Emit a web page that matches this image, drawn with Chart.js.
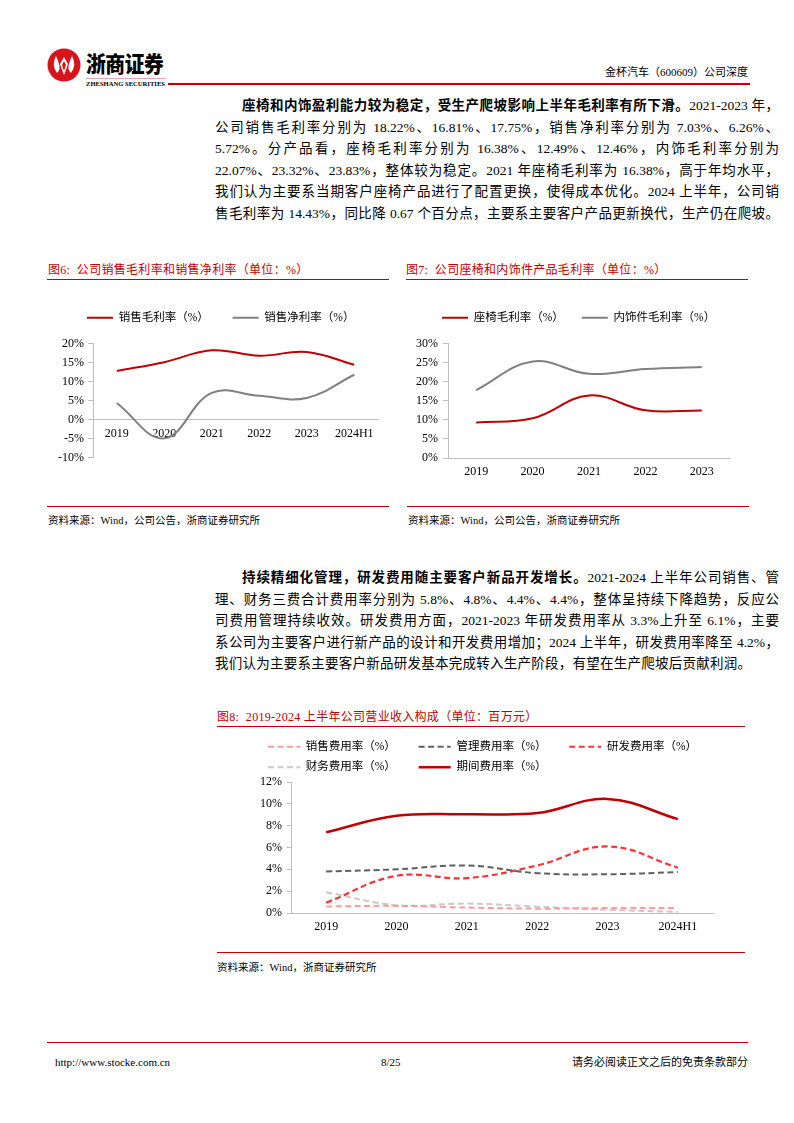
<!DOCTYPE html>
<html lang="zh-CN">
<head>
<meta charset="utf-8">
<title>金杯汽车（600609）公司深度</title>
<script src="https://cdn.jsdelivr.net/npm/chart.js@4.4.1/dist/chart.umd.min.js"></script>
<style>
  html, body { margin: 0; padding: 0; background: #fff; }
  #page { position: relative; width: 794px; height: 1123px; overflow: hidden;
          font-family: "Liberation Serif", "Noto Sans CJK SC", serif; color: #000; }
  .abs { position: absolute; white-space: nowrap; }
  .rule { position: absolute; height: 0; border-top: 1.5px solid #C00000; }
  .para { position: absolute; left: 215px; width: 564px; font-size: 13.5px; line-height: 21.6px; }
  .para .ln { text-align: justify; text-align-last: justify; }
  .para .end { text-align: left; text-align-last: left; letter-spacing: 0.25px; }
  .para b { font-family: "Noto Sans CJK SC", sans-serif; font-weight: 700; }
  .figtitle { position: absolute; font-size: 12px; letter-spacing: 0.3px; color: #C00000; white-space: nowrap; }
  .source { position: absolute; font-size: 10.5px; white-space: nowrap; }
  canvas { position: absolute; }
</style>
</head>
<body>
<div id="page">

  <!-- ============= cabeçalho ============= -->
  <svg class="abs" style="left:47px;top:48px" width="34" height="34" viewBox="0 0 34 34">
    <circle cx="17" cy="17" r="16.5" fill="#D7141A"/>
    <path d="M9 8 Q4 17 10 25 Q14 21 12 16 Q11 12 9 8 Z" fill="#fff"/>
    <path d="M25 8 Q30 17 24 25 Q20 21 22 16 Q23 12 25 8 Z" fill="#fff"/>
    <path d="M17 9 L21 16 L17 27 L13 16 Z" fill="#fff"/>
    <path d="M17 13 L19 17 L17 23 L15 17 Z" fill="#D7141A"/>
  </svg>
  <div class="abs" style="left:86px;top:48px;font-family:'Noto Sans CJK SC';font-weight:900;font-size:22px;line-height:28px;transform:scaleX(0.9);transform-origin:left top;letter-spacing:-0.5px">浙商证券</div>
  <div class="abs" style="left:86px;top:78px;width:80px;border-top:1px solid #E9A3AC"></div>
  <div class="abs" style="left:86px;top:80px;font-size:6.6px;font-weight:700;line-height:8px">ZHESHANG SECURITIES</div>
  <div class="abs" style="right:46px;top:65px;font-size:11px;line-height:14px">金杯汽车（600609）公司深度</div>
  <div class="rule" style="left:168px;top:83px;width:582px;border-top-width:2px"></div>

  <!-- ============= texto 1 ============= -->
  <div class="para" style="top:94px">
    <div class="ln" style="text-indent:2em"><b>座椅和内饰盈利能力较为稳定，受生产爬坡影响上半年毛利率有所下滑。</b>2021-2023 年，</div>
    <div class="ln">公司销售毛利率分别为 18.22%、16.81%、17.75%，销售净利率分别为 7.03%、6.26%、</div>
    <div class="ln">5.72%。分产品看，座椅毛利率分别为 16.38%、12.49%、12.46%，内饰毛利率分别为</div>
    <div class="ln">22.07%、23.32%、23.83%，整体较为稳定。2021 年座椅毛利率为 16.38%，高于年均水平，</div>
    <div class="ln">我们认为主要系当期客户座椅产品进行了配置更换，使得成本优化。2024 上半年，公司销</div>
    <div class="ln">售毛利率为 14.43%，同比降 0.67 个百分点，主要系主要客户产品更新换代，生产仍在爬坡。</div>
  </div>

  <!-- ============= figuras 6 e 7 ============= -->
  <div class="figtitle" style="left:48px;top:260px">图6:&nbsp;&nbsp;公司销售毛利率和销售净利率（单位：%）</div>
  <div class="rule" style="left:47px;top:279px;width:342px"></div>
  <canvas id="marginChart" width="355" height="175" style="left:40px;top:294px"></canvas>
  <div class="rule" style="left:47px;top:506px;width:342px"></div>
  <div class="source" style="left:48px;top:512px">资料来源：Wind，公司公告，浙商证券研究所</div>

  <div class="figtitle" style="left:406px;top:260px">图7:&nbsp;&nbsp;公司座椅和内饰件产品毛利率（单位：%）</div>
  <div class="rule" style="left:406px;top:279px;width:342px"></div>
  <canvas id="productChart" width="355" height="189" style="left:400px;top:294px"></canvas>
  <div class="rule" style="left:407px;top:506px;width:342px"></div>
  <div class="source" style="left:408px;top:512px">资料来源：Wind，公司公告，浙商证券研究所</div>

  <!-- ============= texto 2 ============= -->
  <div class="para" style="top:566px">
    <div class="ln" style="text-indent:2em"><b>持续精细化管理，研发费用随主要客户新品开发增长。</b>2021-2024 上半年公司销售、管</div>
    <div class="ln">理、财务三费合计费用率分别为 5.8%、4.8%、4.4%、4.4%，整体呈持续下降趋势，反应公</div>
    <div class="ln">司费用管理持续收效。研发费用方面，2021-2023 年研发费用率从 3.3%上升至 6.1%，主要</div>
    <div class="ln">系公司为主要客户进行新产品的设计和开发费用增加；2024 上半年，研发费用率降至 4.2%，</div>
    <div class="ln end">我们认为主要系主要客户新品研发基本完成转入生产阶段，有望在生产爬坡后贡献利润。</div>
  </div>

  <!-- ============= figura 8 ============= -->
  <div class="figtitle" style="left:217px;top:707px">图8:&nbsp;&nbsp;2019-2024 上半年公司营业收入构成（单位：百万元）</div>
  <div class="rule" style="left:217px;top:726px;width:528px"></div>
  <canvas id="expenseChart" width="530" height="208" style="left:215px;top:730px"></canvas>
  <div class="rule" style="left:217px;top:952px;width:528px"></div>
  <div class="source" style="left:217px;top:959px">资料来源：Wind，浙商证券研究所</div>

  <!-- ============= rodapé ============= -->
  <div class="rule" style="left:47px;top:1042px;width:701px"></div>
  <div class="abs" style="left:55px;top:1055px;font-size:11px;line-height:14px">http://www.stocke.com.cn</div>
  <div class="abs" style="left:381px;top:1055px;font-size:11px;line-height:14px">8/25</div>
  <div class="abs" style="right:46px;top:1055px;font-size:11px;line-height:14px">请务必阅读正文之后的免责条款部分</div>
</div>

<script>
// ============= Dados =============
const marginYears = ["2019", "2020", "2021", "2022", "2023", "2024H1"];
const grossMargin = [12.8, 15.1, 18.22, 16.81, 17.75, 14.43];
const netMargin = [4.4, -4.9, 7.03, 6.26, 5.72, 11.8];

const productYears = ["2019", "2020", "2021", "2022", "2023"];
const seatMargin = [9.3, 10.4, 16.38, 12.49, 12.46];
const trimMargin = [17.8, 25.3, 22.07, 23.32, 23.83];

const expenseYears = ["2019", "2020", "2021", "2022", "2023", "2024H1"];
const salesRate = [0.6, 0.65, 0.5, 0.4, 0.45, 0.45];
const adminRate = [3.8, 4.0, 4.35, 3.65, 3.55, 3.75];
const rdRate = [0.95, 3.4, 3.2, 4.35, 6.1, 4.15];
const financeRate = [1.9, 0.72, 0.86, 0.58, 0.3, 0.1];
const periodRate = [7.4, 8.9, 9.05, 9.15, 10.45, 8.6];

// ============= Config comum =============
Chart.defaults.font.family = "'Liberation Serif', 'Noto Sans CJK SC', serif";
Chart.defaults.font.size = 12;
Chart.defaults.color = "#000";

const axisGrey = "#BFBFBF";
const pct = v => v + "%";

// legenda empurrada/alargada para ficar como no relatório
const legendBox = {
  id: "legendBox",
  beforeInit(chart, args, opts) {
    const legend = chart.legend;
    const fit = legend.fit;
    legend.fit = function () {
      this.maxWidth += opts.dw || 0;
      fit.call(this);
      this.height += opts.dy || 0;
    };
  },
  afterLayout(chart, args, opts) {
    chart.legend.left += opts.dx || 0;
    chart.legend.right += (opts.dx || 0) + (opts.dw || 0);
  }
};

function lineLegend(spacer) {
  return chart => chart.data.datasets.map((ds, i) => ({
    text: ds.label + spacer,
    strokeStyle: ds.borderColor,
    fillStyle: ds.borderColor,
    lineWidth: ds.borderWidth,
    lineDash: ds.borderDash || [],
    pointStyle: "line",
    fontColor: "#000",
    hidden: false,
    datasetIndex: i
  }));
}

function line(label, data, color, width, dash) {
  return { label, data, borderColor: color, backgroundColor: color, borderWidth: width,
           borderDash: dash || [], pointRadius: 0, tension: 0.4, fill: false };
}

// ============= Gráfico 1: margens =============
new Chart(document.getElementById("marginChart"), {
  type: "line",
  data: {
    labels: marginYears,
    datasets: [
      line("销售毛利率（%）", grossMargin, "#C00000", 2),
      line("销售净利率（%）", netMargin, "#808080", 2)
    ]
  },
  options: {
    responsive: false, animation: false, events: [],
    layout: { padding: { top: 0, left: 11, right: 17, bottom: 10 } },
    plugins: {
      legend: { align: "start", labels: { usePointStyle: true, pointStyleWidth: 26, padding: 18,
                font: { size: 11.5 }, generateLabels: lineLegend("\u2002") } },
      legendBox: { dx: 18, dy: 10, dw: 40 },
      tooltip: { enabled: false }
    },
    scales: {
      x: { position: { y: 0 }, offset: true,
           grid: { display: false, drawTicks: false }, border: { color: axisGrey },
           ticks: { padding: 7, maxRotation: 0, autoSkip: false } },
      y: { min: -10, max: 20,
           ticks: { stepSize: 5, padding: 4, callback: pct },
           grid: { drawOnChartArea: false, tickLength: 5, color: axisGrey },
           border: { color: axisGrey },
           afterFit: s => { s.width = 42; } }
    }
  },
  plugins: [legendBox]
});

// ============= Gráfico 2: produtos =============
new Chart(document.getElementById("productChart"), {
  type: "line",
  data: {
    labels: productYears,
    datasets: [
      line("座椅毛利率（%）", seatMargin, "#C00000", 2),
      line("内饰件毛利率（%）", trimMargin, "#808080", 2)
    ]
  },
  options: {
    responsive: false, animation: false, events: [],
    layout: { padding: { top: 0, left: 6, right: 25, bottom: 1 } },
    plugins: {
      legend: { align: "start", labels: { usePointStyle: true, pointStyleWidth: 26, padding: 18,
                font: { size: 11.5 }, generateLabels: lineLegend("") } },
      legendBox: { dx: 18, dy: 10, dw: 40 },
      tooltip: { enabled: false }
    },
    scales: {
      x: { offset: true,
           grid: { display: false, drawTicks: false }, border: { color: axisGrey },
           ticks: { padding: 7, maxRotation: 0, autoSkip: false },
           afterFit: s => { s.height = 24; } },
      y: { min: 0, max: 30,
           ticks: { stepSize: 5, padding: 5, callback: pct },
           grid: { drawOnChartArea: false, tickLength: 5, color: axisGrey },
           border: { color: axisGrey },
           afterFit: s => { s.width = 42; } }
    }
  },
  plugins: [legendBox]
});

// ============= Gráfico 3: despesas =============
const dash = [6, 3.5];
new Chart(document.getElementById("expenseChart"), {
  type: "line",
  data: {
    labels: expenseYears,
    datasets: [
      line("销售费用率（%）", salesRate, "#FF9C9C", 2, dash),
      line("管理费用率（%）", adminRate, "#5F5F5F", 2, dash),
      line("研发费用率（%）", rdRate, "#FF3333", 2.2, dash),
      line("财务费用率（%）", financeRate, "#C9C9C9", 2, dash),
      line("期间费用率（%）", periodRate, "#C00000", 2.5)
    ]
  },
  options: {
    responsive: false, animation: false, events: [],
    layout: { padding: { top: 2, left: 44, right: 32, bottom: 1 } },
    plugins: {
      legend: { align: "start", labels: { usePointStyle: true, pointStyleWidth: 32, padding: 9,
                font: { size: 11.5 }, generateLabels: lineLegend("\u2002\u2002\u2009") } },
      legendBox: { dx: 0, dy: -1, dw: 60 },
      tooltip: { enabled: false }
    },
    scales: {
      x: { offset: true,
           grid: { display: false, drawTicks: false }, border: { color: axisGrey },
           ticks: { padding: 7, maxRotation: 0, autoSkip: false },
           afterFit: s => { s.height = 24; } },
      y: { min: 0, max: 12,
           ticks: { stepSize: 2, padding: 5, callback: pct },
           grid: { drawOnChartArea: false, tickLength: 4, color: axisGrey },
           border: { color: axisGrey },
           afterFit: s => { s.width = 32; } }
    }
  },
  plugins: [legendBox]
});
</script>
</body>
</html>
